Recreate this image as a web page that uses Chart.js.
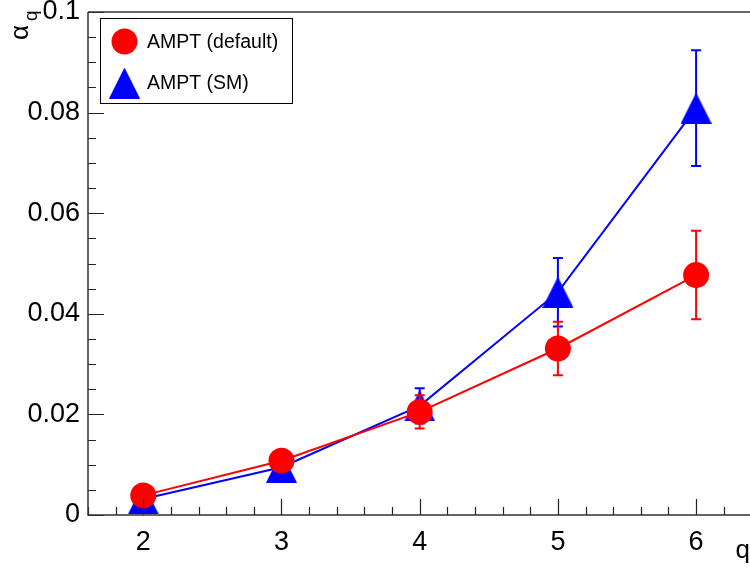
<!DOCTYPE html>
<html><head><meta charset="utf-8">
<script src="https://cdn.jsdelivr.net/npm/chart.js@4.4.1/dist/chart.umd.min.js"></script>
<style>html,body{margin:0;padding:0;background:#fff;overflow:hidden}canvas{display:block}</style>
</head><body>
<canvas id="c" width="750" height="575"></canvas>
<script>
const qValues = [2, 3, 4, 5, 6];
const defaultAlpha = [0.0039, 0.0108, 0.0205, 0.0331, 0.0477];
const defaultErr   = [0.0004, 0.0007, 0.0033, 0.0053, 0.0088];
const smAlpha = [0.0032, 0.0095, 0.0217, 0.0443, 0.0809];
const smErr   = [0.0003, 0.0006, 0.0035, 0.0068, 0.0115];
const seriesNames = ['AMPT (default)', 'AMPT (SM)'];
const xTicks = [2, 3, 4, 5, 6];
const yTicks = [0, 0.02, 0.04, 0.06, 0.08, 0.1];
const yTickLabels = ['0', '0.02', '0.04', '0.06', '0.08', '0.1'];
const xTitle = 'q';
const yTitleMain = 'α';
const yTitleSub = 'q';

const FONT = '"Liberation Sans", Arial, Helvetica, sans-serif';
const RED = '#ff0000', BLUE = '#0000ff';

function makeTriangle(size, color) {
  const c = document.createElement('canvas');
  c.width = size; c.height = size;
  const g = c.getContext('2d');
  g.fillStyle = color;
  g.beginPath();
  g.moveTo(size / 2, 0);
  g.lineTo(size, size);
  g.lineTo(0, size);
  g.closePath();
  g.fill();
  return c;
}
const triangleImg = makeTriangle(31, BLUE);

const errors = [defaultErr, smErr];

const errorBars = {
  id: 'errorBars',
  beforeDatasetDraw(chart, args) {
    const i = args.index;
    const ds = chart.data.datasets[i];
    const meta = chart.getDatasetMeta(i);
    const ys = chart.scales.y;
    const ctx = chart.ctx;
    ctx.save();
    ctx.strokeStyle = ds.borderColor;
    ctx.lineWidth = 2;
    meta.data.forEach((pt, j) => {
      const v = ds.data[j].y, e = errors[i][j];
      const yt = ys.getPixelForValue(v + e), yb = ys.getPixelForValue(v - e);
      ctx.beginPath();
      ctx.moveTo(pt.x, yt); ctx.lineTo(pt.x, yb);
      ctx.moveTo(pt.x - 5, yt); ctx.lineTo(pt.x + 5, yt);
      ctx.moveTo(pt.x - 5, yb); ctx.lineTo(pt.x + 5, yb);
      ctx.stroke();
    });
    ctx.restore();
  }
};

const frameAxes = {
  id: 'frameAxes',
  afterDraw(chart) {
    const ctx = chart.ctx, a = chart.chartArea;
    const xs = chart.scales.x, ys = chart.scales.y;
    ctx.save();
    // ticks
    ctx.strokeStyle = '#222';
    ctx.lineWidth = 1.2;
    ctx.beginPath();
    for (let k = 0; k <= 48; k++) {
      const v = 1.6 + k * 0.1;
      if (v > xs.max + 1e-9) break;
      const isMajor = Math.abs(v - Math.round(v)) < 1e-6;
      const isMinor = Math.abs(v * 5 - Math.round(v * 5)) < 1e-6;
      if (!isMajor && !isMinor) continue;
      const px = Math.round(xs.getPixelForValue(v)) + 0.5;
      const len = isMajor ? 16 : 8;
      ctx.moveTo(px, a.bottom); ctx.lineTo(px, a.bottom - len);
    }
    for (let k = 0; k <= 20; k++) {
      const v = k * 0.005;
      const isMajor = k % 4 === 0;
      const py = Math.round(ys.getPixelForValue(v)) + 0.5;
      const len = isMajor ? 16 : 8;
      ctx.moveTo(a.left, py); ctx.lineTo(a.left + len, py);
    }
    ctx.stroke();
    // frame
    ctx.strokeStyle = '#333';
    ctx.lineWidth = 1.5;
    ctx.beginPath();
    ctx.moveTo(a.left, a.top); ctx.lineTo(a.right + 2, a.top);
    ctx.moveTo(a.left, a.top); ctx.lineTo(a.left, a.bottom);
    ctx.lineTo(a.right + 2, a.bottom);
    ctx.stroke();

    // axis titles
    ctx.fillStyle = '#000';
    ctx.font = '26px ' + FONT;
    ctx.textAlign = 'right';
    ctx.textBaseline = 'alphabetic';
    ctx.fillText(xTitle, 750, 558);

    ctx.save();
    ctx.translate(28, 40);
    ctx.rotate(-Math.PI / 2);
    ctx.textAlign = 'left';
    ctx.font = '26px ' + FONT;
    ctx.fillText(yTitleMain, 0, 0);
    const w = ctx.measureText(yTitleMain).width;
    ctx.font = '19px ' + FONT;
    ctx.fillText(yTitleSub, w + 4, 9);
    ctx.restore();

    // legend
    const lx = 100.5, ly = 18.5, lw = 192, lh = 85;
    ctx.fillStyle = '#fff';
    ctx.fillRect(lx, ly, lw, lh);
    ctx.strokeStyle = '#000';
    ctx.lineWidth = 1;
    ctx.strokeRect(lx, ly, lw, lh);
    const dsets = chart.data.datasets;
    const rowY = [41.5, 83];
    dsets.forEach((ds, i) => {
      if (ds.pointStyle === 'circle') {
        ctx.fillStyle = ds.pointBackgroundColor;
        ctx.beginPath(); ctx.arc(124.5, rowY[i], ds.pointRadius, 0, Math.PI * 2); ctx.fill();
      } else {
        Chart.helpers.drawPoint(ctx, {
          pointStyle: ds.pointStyle, radius: ds.pointRadius, rotation: 0, borderWidth: 0
        }, 124.5, rowY[i]);
      }
      ctx.fillStyle = '#000';
      ctx.font = '19.5px ' + FONT;
      ctx.textAlign = 'left';
      ctx.textBaseline = 'middle';
      ctx.fillText(ds.label, 147, rowY[i] + 1);
    });
    ctx.restore();
  }
};

const mk = (ys) => qValues.map((q, i) => ({ x: q, y: ys[i] }));

new Chart(document.getElementById('c'), {
  type: 'line',
  data: {
    datasets: [
      {
        label: seriesNames[0], data: mk(defaultAlpha),
        borderColor: RED, backgroundColor: RED, borderWidth: 2,
        pointStyle: 'circle', pointRadius: 13, pointBackgroundColor: RED,
        pointBorderWidth: 0, tension: 0, clip: false
      },
      {
        label: seriesNames[1], data: mk(smAlpha),
        borderColor: BLUE, backgroundColor: BLUE, borderWidth: 2,
        pointStyle: triangleImg, pointRadius: 15, pointBackgroundColor: BLUE,
        pointBorderWidth: 0, tension: 0, clip: false
      }
    ]
  },
  options: {
    responsive: false,
    animation: false,
    devicePixelRatio: 1,
    layout: { autoPadding: false, padding: { left: 0, right: 0, top: 12, bottom: 0 } },
    plugins: { legend: { display: false }, tooltip: { enabled: false } },
    scales: {
      x: {
        type: 'linear', min: 1.6, max: 6.39,
        afterBuildTicks: s => { s.ticks = xTicks.map(v => ({ value: v })); },
        afterFit: s => { s.height = 60; s.paddingLeft = 0; s.paddingRight = 0; },
        grid: { display: false, drawTicks: false },
        border: { display: false },
        ticks: {
          font: { family: FONT, size: 27 }, color: '#000', padding: 11,
          maxRotation: 0, autoSkip: false,
          callback: v => String(v)
        }
      },
      y: {
        type: 'linear', min: 0, max: 0.1,
        afterBuildTicks: s => { s.ticks = yTicks.map(v => ({ value: v })); },
        afterFit: s => { s.width = 88; s.paddingTop = 0; s.paddingBottom = 0; },
        grid: { display: false, drawTicks: false },
        border: { display: false },
        ticks: {
          font: { family: FONT, size: 27 }, color: '#000', padding: 8,
          autoSkip: false,
          callback: (v, idx) => yTickLabels[idx]
        }
      }
    }
  },
  plugins: [errorBars, frameAxes]
});
</script>
</body></html>
